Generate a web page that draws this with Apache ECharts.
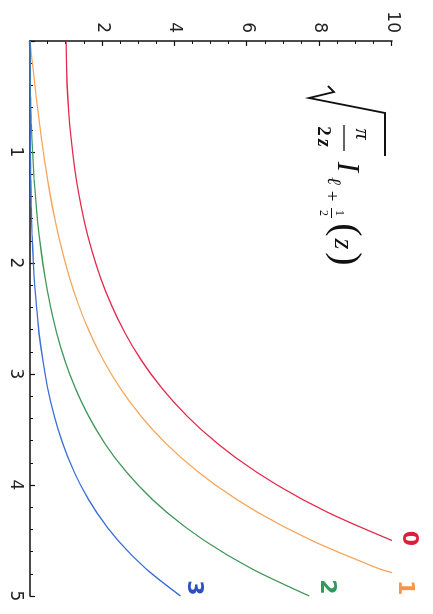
<!DOCTYPE html>
<html>
<head>
<meta charset="utf-8">
<script src="https://cdn.jsdelivr.net/npm/echarts@6/dist/echarts.min.js"></script>
<style>
  html, body { margin: 0; padding: 0; background: #fff; overflow: hidden; width: 433px; height: 614px; }
  /* the plot is laid out landscape and turned a quarter turn clockwise */
  #plot { position: absolute; left: 433px; top: 0; width: 614px; height: 433px;
          transform-origin: 0 0; transform: rotate(90deg); }
</style>
</head>
<body>
<div id="plot"></div>
<script>
// Modified spherical Bessel functions sqrt(pi/2z) I_{l+1/2}(z), l = 0..3
const zSteps = [0, 0.25, 0.5, 0.75, 1, 1.25, 1.5, 1.75, 2, 2.25, 2.5, 2.75,
                3, 3.25, 3.5, 3.75, 4, 4.25, 4.5, 4.75, 5];

// order 0 leaves the frame at z = 4.5
const order0 = [1.0000, 1.0105, 1.0422, 1.0964, 1.1752, 1.2815, 1.4195, 1.5945,
                1.8134, 2.0850, 2.4201, 2.8325, 3.3393, 3.9618, 4.7265, 5.6663,
                6.8225, 8.2460, 10.0000];
// order 1 runs to z = 4.75, then exits at the top
const order1 = [0.0000, 0.0839, 0.1709, 0.2643, 0.3679, 0.4855, 0.6219, 0.7827,
                0.9744, 1.2052, 1.4849, 1.8257, 2.2428, 2.7547, 3.3847, 4.1616,
                5.1214, 6.3091, 7.7808, 9.6064];
const order1Exit = [4.79, 10.0];
const order2 = [0.0000, 0.0042, 0.0170, 0.0390, 0.0716, 0.1163, 0.1757, 0.2528,
                0.3519, 0.4781, 0.6382, 0.8408, 1.0965, 1.4190, 1.8253, 2.3371,
                2.9814, 3.7925, 4.8135, 6.0986, 7.7163];
const order3 = [0.0000, 0.0001, 0.0012, 0.0041, 0.0101, 0.0203, 0.0364, 0.0604,
                0.0947, 0.1428, 0.2084, 0.2971, 0.4153, 0.5717, 0.7771, 1.0455,
                1.3947, 1.8474, 2.4324, 3.1868, 4.1575];

const orderNames = ['0', '1', '2', '3'];
const zTickLabels = ['1', '2', '3', '4', '5'];
const valueTickLabels = ['2', '4', '6', '8', '10'];

const lineColors  = ['#e42a4c', '#f5a65c', '#40995a', '#3b6fd6'];
const labelColors = ['#dc1e3c', '#f0964e', '#2f9a5c', '#2a50c4'];

function pairs(values) {
  return values.map((v, i) => [zSteps[i], v]);
}
const seriesData = [
  pairs(order0),
  pairs(order1).concat([order1Exit]),
  pairs(order2),
  pairs(order3)
];

const chart = echarts.init(document.getElementById('plot'), null, { renderer: 'canvas' });

const tickFont = { fontFamily: 'DejaVu Sans', fontSize: 17, color: '#222' };

chart.setOption({
  animation: false,
  backgroundColor: '#ffffff',
  grid: { left: 41, right: 18, top: 41, bottom: 30 },
  xAxis: {
    type: 'value', min: 0, max: 5, interval: 1,
    axisLine: { onZero: false, lineStyle: { color: '#111', width: 1.5 } },
    axisTick: { inside: true, length: 5, lineStyle: { color: '#111', width: 1.2 } },
    minorTick: { show: true, splitNumber: 5, length: 3, lineStyle: { color: '#111', width: 1 } },
    splitLine: { show: false },
    axisLabel: Object.assign({
      margin: 6,
      formatter: v => (v === 0 ? '' : zTickLabels[Math.round(v) - 1])
    }, tickFont)
  },
  yAxis: {
    type: 'value', min: 0, max: 10, interval: 2,
    axisLine: { onZero: false, lineStyle: { color: '#111', width: 1.5 } },
    axisTick: { inside: true, length: 5, lineStyle: { color: '#111', width: 1.2 } },
    minorTick: { show: true, splitNumber: 4, length: 3, lineStyle: { color: '#111', width: 1 } },
    splitLine: { show: false },
    axisLabel: Object.assign({
      margin: 8,
      formatter: v => (v === 0 ? '' : valueTickLabels[Math.round(v / 2) - 1])
    }, tickFont)
  },
  series: seriesData.map((d, i) => ({
    name: orderNames[i],
    type: 'line',
    data: d,
    smooth: 0.3,
    showSymbol: false,
    clip: true,
    lineStyle: { color: lineColors[i], width: 1.3 },
    itemStyle: { color: lineColors[i] }
  }))
});

// curve labels sit just beyond where each curve ends
const labelNudges = [[-2, -17], [15, -13], [-9, -17], [-8, -13]];
const curveLabels = seriesData.map((d, i) => {
  const p = chart.convertToPixel({ gridIndex: 0 }, d[d.length - 1]);
  return {
    type: 'text',
    x: p[0] + labelNudges[i][0],
    y: p[1] + labelNudges[i][1],
    style: {
      text: orderNames[i],
      font: 'bold 22px "DejaVu Sans"',
      fill: labelColors[i],
      textAlign: 'center',
      textVerticalAlign: 'middle'
    }
  };
});

// formula: sqrt(pi / 2z) I_{l+1/2}(z)
const ink = '#111';
const centred = { fill: ink, textAlign: 'center', textVerticalAlign: 'middle' };
function txt(x, y, text, font) {
  return { type: 'text', x: x, y: y, style: Object.assign({ text: text, font: font }, centred) };
}
const formula = [
  { type: 'polyline', shape: { points: [[86, 105], [92, 99], [98, 124], [113, 48], [156, 48]] },
    style: { stroke: ink, lineWidth: 1.8, fill: null, lineJoin: 'miter' } },
  txt(134, 71, 'π', 'italic 22px "Liberation Serif"'),
  { type: 'line', shape: { x1: 125, y1: 89, x2: 151, y2: 89 }, style: { stroke: ink, lineWidth: 1.3 } },
  txt(131, 110, '2', 'bold 19px "Liberation Serif"'),
  txt(143, 110, 'z', 'italic bold 20px "Liberation Serif"'),
  txt(167, 87, 'I', 'italic 31px "Liberation Serif"'),
  txt(181, 100, 'ℓ', 'italic 19px "DejaVu Serif"'),
  txt(196, 102, '+', '19px "Liberation Serif"'),
  txt(213, 94, '1', '12px "Liberation Serif"'),
  { type: 'line', shape: { x1: 208, y1: 101.5, x2: 218, y2: 101.5 }, style: { stroke: ink, lineWidth: 1 } },
  txt(213, 110, '2', '12px "Liberation Serif"'),
  txt(230, 88, '(', '40px "Liberation Serif"'),
  txt(244, 91, 'z', 'italic 28px "Liberation Serif"'),
  txt(259, 88, ')', '40px "Liberation Serif"')
];

chart.setOption({ graphic: { elements: curveLabels.concat(formula) } });
</script>
</body>
</html>
